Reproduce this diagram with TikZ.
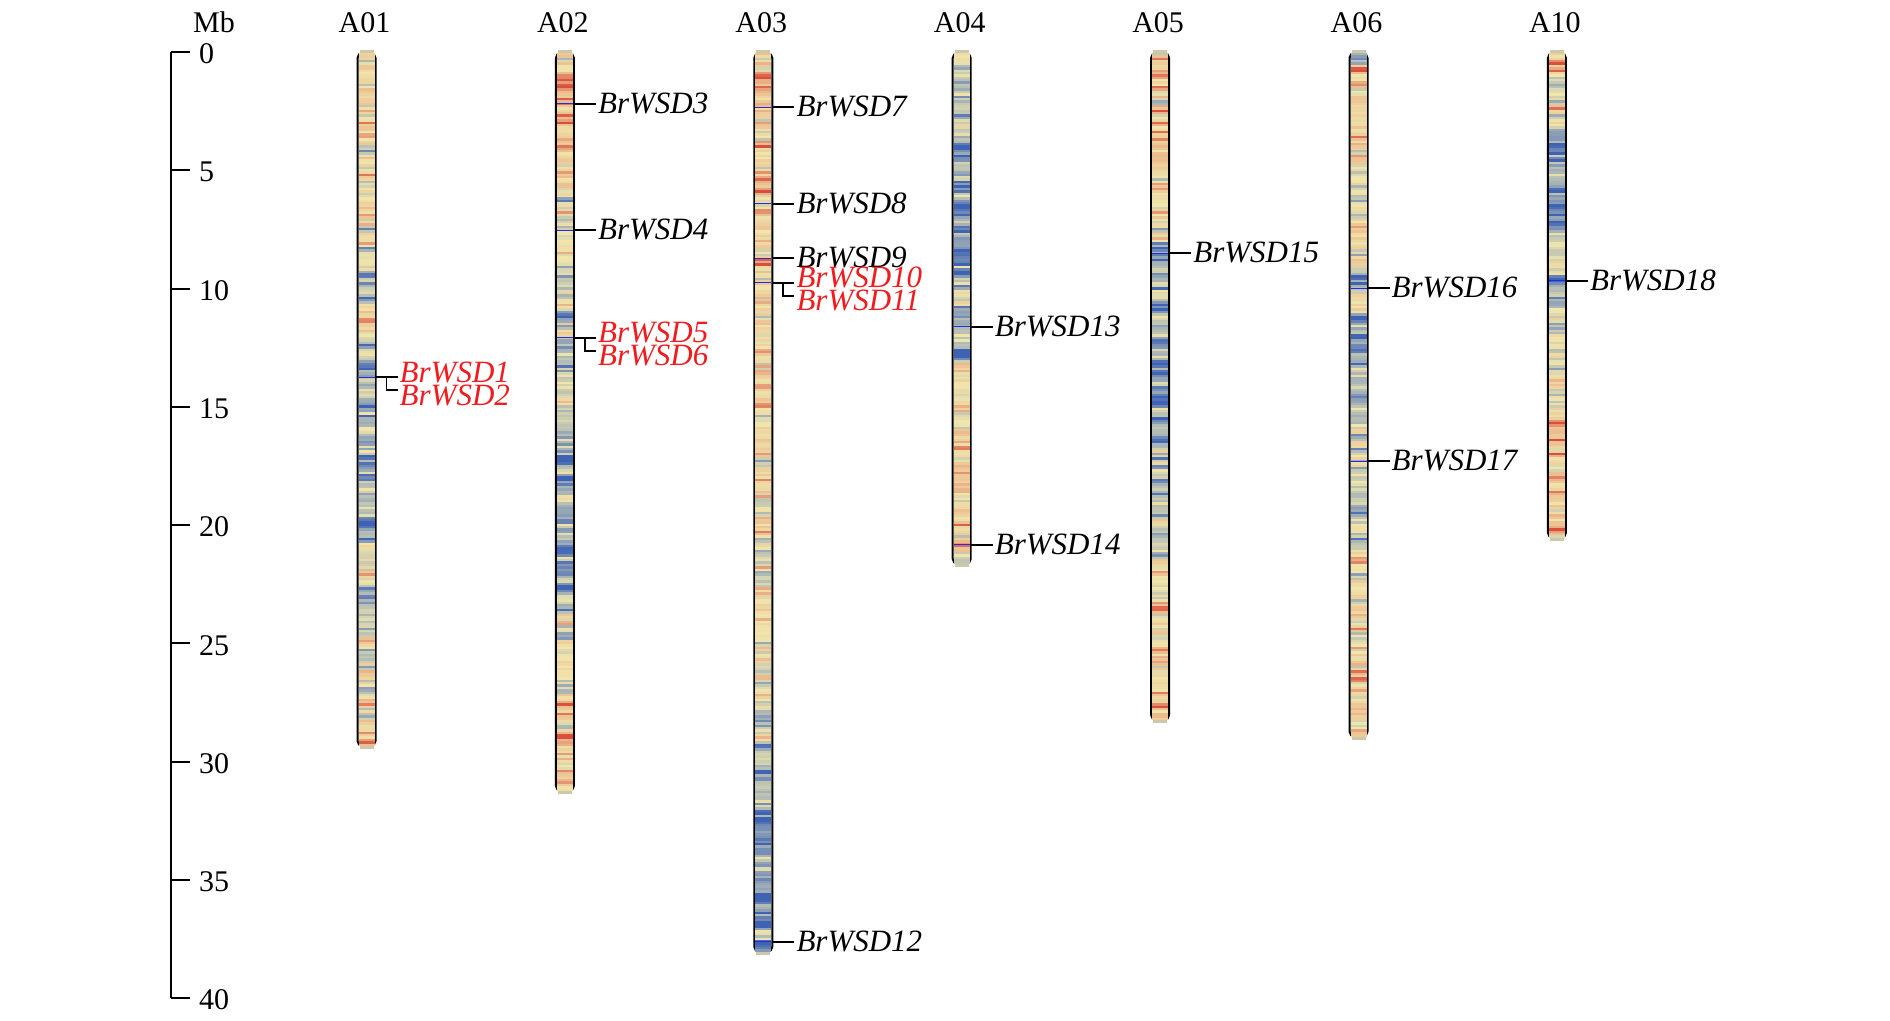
\documentclass[tikz,border=0pt]{standalone}
\usepackage{fontspec}
\setmainfont{Liberation Serif}
\begin{document}
\begin{tikzpicture}[x=1pt,y=-1pt,
  chromo/.style={draw=black,line width=2pt,rounded corners=5pt},
  genemark/.style={draw={rgb,255:red,40;green,40;blue,230},line width=1pt},
  tickline/.style={draw=black,line width=1.8pt},
  axisline/.style={draw=black,line width=2pt},
  glabel/.style={font=\fontsize{31}{31}\selectfont\itshape,inner sep=0pt},
  title/.style={font=\fontsize{30}{30}\selectfont,inner sep=0pt,anchor=base},
  num/.style={font=\fontsize{30}{30}\selectfont,inner sep=0pt,anchor=west},
  redlab/.style={text={rgb,255:red,240;green,28;blue,32}}]
\definecolor{cA}{RGB}{62,98,180}
\definecolor{cB}{RGB}{165,178,182}
\definecolor{cC}{RGB}{240,230,172}
\definecolor{cD}{RGB}{236,188,142}
\definecolor{cE}{RGB}{218,78,58}
\definecolor{capcol}{RGB}{205,200,170}
\useasboundingbox (0,0) rectangle (1890,1020);
\pgfmathsetseed{4242}
\gdef\prevnz{0}
\newcommand\chrom[4]{%
  \pgfmathsetmacro\ybot{53+#3*23.65}
  \draw[chromo] ({#2-9},53) rectangle ({#2+9},\ybot);
  \fill[capcol] ({#2-7},49.5) rectangle ({#2+7},54);
  \fill[capcol] ({#2-7},{\ybot-1}) rectangle ({#2+7},{\ybot+3.5});
  \foreach \sa/\sb/\mm in {#4} {
    \pgfmathtruncatemacro\nA{round(\sa*10)}
    \pgfmathtruncatemacro\nB{round(\sb*10)-1}
    \foreach \k in {\nA,...,\nB} {
      \pgfmathsetmacro\rv{2*rnd-1}
      \pgfmathsetmacro\nz{0.45*\prevnz+0.3*\rv*\rv*\rv+0.07*\rv}
      \global\let\prevnz\nz
      \pgfmathsetmacro\lv{max(0,min(0.999,\mm+\nz))}
      \pgfmathtruncatemacro\seg{floor(\lv*4)}
      \pgfmathtruncatemacro\pc{100*(\lv*4-\seg)}
      \ifcase\seg \colorlet{sc}{cB!\pc!cA}\or \colorlet{sc}{cC!\pc!cB}\or \colorlet{sc}{cD!\pc!cC}\or \colorlet{sc}{cE!\pc!cD}\fi
      \fill[sc] ({#2-8},{53+\k*2.365}) rectangle ({#2+8},{53+\k*2.365+2.75});
    }
  }
  \node[title] (t#1) at ({#2-2},32) {#1};
}
\newcommand\gene[3]{%
  \draw[genemark] ({#1-8},#2) -- ({#1+8},#2);
  \coordinate (s#3) at ({#1+9},#2);
  \coordinate (e#3) at ({#1+31},#2);
  \draw[tickline] (s#3) -- (e#3);
  \node[glabel,anchor=base west] (n#3) at ({#1+33},{#2+9.5}) {BrWSD#3};
}
\newcommand\genepair[4]{%
  \draw[genemark] ({#1-8},#2) -- ({#1+8},#2);
  \coordinate (s#3) at ({#1+9},#2);
  \coordinate (e#3) at ({#1+31},#2);
  \coordinate (b#4) at ({#1+20},#2);
  \coordinate (c#4) at ({#1+20},{#2+13});
  \coordinate (e#4) at ({#1+31},{#2+13});
  \draw[tickline] (s#3) -- (e#3);
  \draw[tickline] (b#4) -- (c#4) -- (e#4);
  \node[glabel,redlab,anchor=base west] (n#3) at ({#1+33},{#2+5}) {BrWSD#3};
  \node[glabel,redlab,anchor=base west] (n#4) at ({#1+33},{#2+28}) {BrWSD#4};
}
% axis
\node[title] (mb) at (214,32) {Mb};
\coordinate (ax0) at (171,52);
\coordinate (ax40) at (171,998);
\draw[axisline] (ax0) -- (ax40);
\foreach \t in {0,...,8} {
  \pgfmathsetmacro\ty{52+\t*118.25}
  \pgfmathtruncatemacro\tl{\t*5}
  \coordinate (tk\t) at (171,\ty);
  \coordinate (tke\t) at (190,\ty);
  \draw[axisline] (tk\t) -- (tke\t);
  \node[num] (tn\t) at (199,{\ty+2}) {\tl};
}
% chromosomes
\chrom{A01}{366.5}{29.3}{0/4/0.66, 4/8/0.55, 8/12/0.45, 12/14/0.38, 14/19/0.24, 19/23/0.34, 23/27/0.45, 27/29.3/0.56}
\chrom{A02}{564.9}{31.2}{0/1/0.55, 1/6/0.66, 6/9/0.5, 9/12/0.42, 12/17/0.32, 17/22/0.22, 22/26/0.45, 26/31.2/0.56}
\chrom{A03}{763.3}{38.0}{0/4/0.7, 4/9/0.66, 9/14/0.6, 14/20/0.58, 20/26/0.52, 26/30/0.45, 30/32/0.36, 32/38/0.14}
\chrom{A04}{961.7}{21.6}{0/2/0.5, 2/5/0.32, 5/9/0.18, 9/13/0.32, 13/17/0.5, 17/21.6/0.58}
\chrom{A05}{1160.1}{28.2}{0/5/0.66, 5/8/0.5, 8/12/0.34, 12/17/0.22, 17/21/0.38, 21/26/0.58, 26/28.2/0.58}
\chrom{A06}{1358.5}{28.9}{0/0.5/0.14, 0.5/5/0.63, 5/9/0.52, 9/11/0.4, 11/17/0.22, 17/21/0.4, 21/26/0.55, 26/28.9/0.6}
\chrom{A10}{1556.9}{20.5}{0/3/0.5, 3/8/0.18, 8/11/0.36, 11/14/0.5, 14/20.5/0.67}
% genes
\genepair{366.5}{377}{1}{2}
\gene{564.9}{103.7}{3}
\gene{564.9}{230.2}{4}
\genepair{564.9}{337.7}{5}{6}
\gene{763.3}{107.3}{7}
\gene{763.3}{203.7}{8}
\gene{763.3}{258.3}{9}
\genepair{763.3}{282.7}{10}{11}
\gene{763.3}{941.7}{12}
\gene{961.7}{326.7}{13}
\gene{961.7}{544.8}{14}
\gene{1160.1}{253.1}{15}
\gene{1358.5}{288}{16}
\gene{1358.5}{461}{17}
\gene{1556.9}{280.8}{18}
\end{tikzpicture}
\end{document}
